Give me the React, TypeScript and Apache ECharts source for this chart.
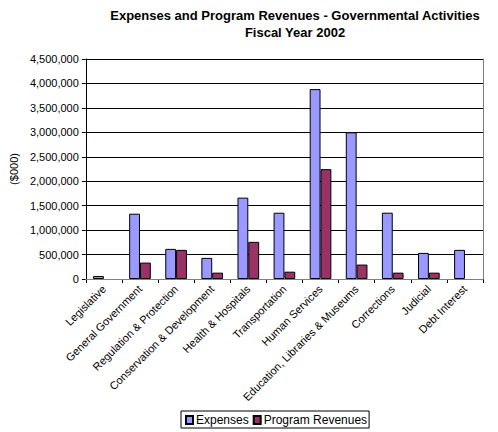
import React, { useEffect, useRef } from "react";
import * as echarts from "echarts";

const categories = [
  "Legislative",
  "General Government",
  "Regulation & Protection",
  "Conservation & Development",
  "Health & Hospitals",
  "Transportation",
  "Human Services",
  "Education, Libraries & Museums",
  "Corrections",
  "Judicial",
  "Debt Interest",
];
const expenses = [62000, 1336000, 616000, 432000, 1664000, 1356000, 3884000, 3000000, 1356000, 534000, 596000];
const programRevenues = [null, 336000, 596000, 130000, 760000, 150000, 2247000, 295000, 130000, 130000, null];
const yTicks = [0, 500000, 1000000, 1500000, 2000000, 2500000, 3000000, 3500000, 4000000, 4500000];

export default function App() {
  const ref = useRef<HTMLDivElement>(null);
  useEffect(() => {
    const chart = echarts.init(ref.current!, null, { renderer: "svg" });
    const font = "'Liberation Sans', Arial, sans-serif";
    chart.setOption({
      animation: false,
      textStyle: { fontFamily: font, color: "#000" },
      title: {
        text: "Expenses and Program Revenues - Governmental Activities\nFiscal Year 2002",
        left: 290,
        top: 2,
        textAlign: "center",
        textStyle: { fontSize: 13, fontWeight: "bold", lineHeight: 17, color: "#000", fontFamily: font },
      },
      legend: {
        bottom: 4,
        left: 181,
        orient: "horizontal",
        itemWidth: 7,
        itemHeight: 8,
        itemGap: 4,
        padding: [3, 2, 2, 4],
        borderColor: "#000",
        borderWidth: 1,
        borderRadius: 0,
        textStyle: { fontSize: 12, color: "#000", fontFamily: font, padding: [2, 0, 0, -2] },
        data: [
          { name: "Expenses", icon: "rect" },
          { name: "Program Revenues", icon: "rect" },
        ],
      },
      grid: {
        left: 76,
        right: 15,
        top: 59,
        bottom: 153,
      },
      xAxis: [
        {
          type: "category",
          data: categories,
          z: 5,
          axisLine: { lineStyle: { color: "#000", width: 1 } },
          axisTick: { show: true, interval: 0, length: 4, lineStyle: { color: "#000" } },
          axisLabel: { interval: 0, rotate: 45, fontSize: 11, color: "#000", margin: 8, fontFamily: font },
          splitLine: { show: false },
        },
        {
          type: "category",
          data: categories,
          position: "top",
          z: 6,
          axisLine: { show: true, lineStyle: { color: "#808080", width: 1 } },
          axisTick: { show: false },
          axisLabel: { show: false },
          splitLine: { show: false },
        },
      ],
      yAxis: [
        {
          type: "value",
          min: 0,
          max: yTicks[yTicks.length - 1],
          interval: 500000,
          name: "($000)",
          nameLocation: "middle",
          nameRotate: 90,
          nameGap: 63,
          nameTextStyle: { fontSize: 11, color: "#000", fontFamily: font },
          axisLine: { show: true, lineStyle: { color: "#000", width: 1 } },
          axisTick: { show: true, length: 4, lineStyle: { color: "#000" } },
          axisLabel: {
            fontSize: 11,
            color: "#000",
            margin: 7,
            fontFamily: font,
            formatter: (v: number) => v.toLocaleString("en-US"),
          },
          splitLine: {
            show: true,
            lineStyle: { color: "#000", width: 1, type: "solid" },
          },
        },
        {
          type: "value",
          min: 0,
          max: yTicks[yTicks.length - 1],
          interval: 500000,
          position: "right",
          z: 6,
          axisLine: { show: true, lineStyle: { color: "#808080", width: 1 } },
          axisTick: { show: false },
          axisLabel: { show: false },
          splitLine: { show: false },
        },
      ],
      series: [
        {
          name: "Expenses",
          type: "bar",
          data: expenses,
          barGap: "0%",
          barCategoryGap: "40%",
          itemStyle: { color: "#9999FF", borderColor: "#000", borderWidth: 1 },
        },
        {
          name: "Program Revenues",
          type: "bar",
          data: programRevenues,
          barGap: "0%",
          barCategoryGap: "40%",
          itemStyle: { color: "#993366", borderColor: "#000", borderWidth: 1 },
        },
      ],
    });
    return () => chart.dispose();
  }, []);
  return <div ref={ref} style={{ width: 498, height: 432, position: "absolute", left: 0, top: 0 }} />;
}
